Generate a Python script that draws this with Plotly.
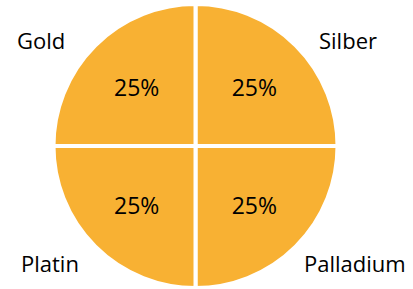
import plotly.graph_objects as go

labels = ["Gold", "Platin", "Palladium", "Silber"]
values = [25, 25, 25, 25]
color = "#F8B133"

W, H = 413, 289
cx, cy, r = 195.5, 146, 142

fig = go.Figure(go.Pie(
    labels=labels, values=values, sort=False,
    direction="counterclockwise", rotation=90,
    marker=dict(colors=[color]*4, line=dict(color="white", width=4)),
    textinfo="percent", textposition="inside", insidetextorientation="horizontal",
    texttemplate="%{percent:.0%}",
    textfont=dict(family="Open Sans", size=23, color="black"),
    domain=dict(x=[(cx-r)/W, (cx+r)/W], y=[(H-cy-r)/H, (H-cy+r)/H]),
    showlegend=False, hoverinfo="skip",
))

name_pos = {"Gold": (41, 40), "Silber": (348, 40), "Platin": (50, 263), "Palladium": (355, 263)}
for name in labels:
    x, y = name_pos[name]
    fig.add_annotation(x=x/W, y=1-y/H, xref="paper", yref="paper", text=name,
                       showarrow=False, font=dict(family="Open Sans", size=22, color="black"),
                       xanchor="center", yanchor="middle")

fig.update_layout(width=W, height=H, margin=dict(l=0, r=0, t=0, b=0),
                  paper_bgcolor="white", plot_bgcolor="white")
fig.write_html("out.html", config={"displayModeBar": False},
               post_script="document.body.style.margin='0';document.body.style.overflow='hidden';")
